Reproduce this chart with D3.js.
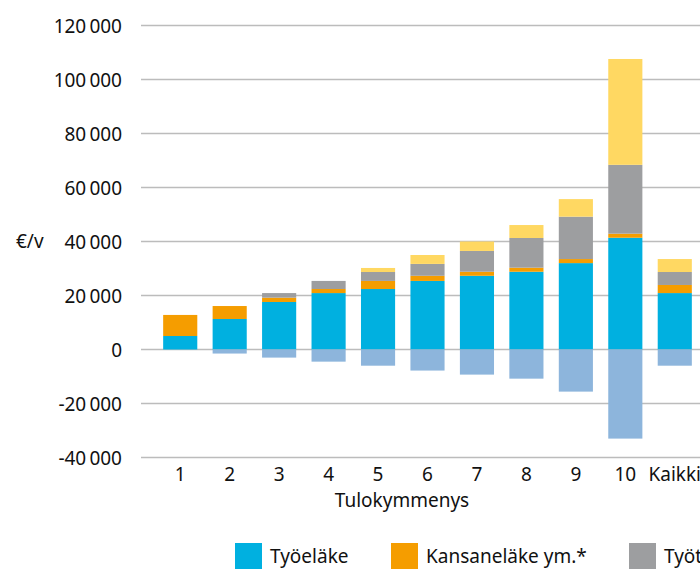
<!DOCTYPE html>
<html>
<head>
<meta charset="utf-8">
<script src="https://cdn.jsdelivr.net/npm/d3@7"></script>
<style>
  html, body { margin: 0; padding: 0; background: #fff; }
  svg { display: block; font-family: 'Noto Sans', sans-serif; }
</style>
</head>
<body>
<svg id="chart" width="700" height="569"></svg>
<script>
// Chart data
const categories = ['1', '2', '3', '4', '5', '6', '7', '8', '9', '10', 'Kaikki'];
const tyoelake = [5000, 11300, 17600, 20900, 22400, 25400, 27300, 28800, 32000, 41400, 20900];
const kansanelake = [7800, 4800, 1600, 1500, 3000, 1900, 1500, 1500, 1500, 1500, 3000];
const tyotulot = [0, 0, 1700, 3000, 3300, 4400, 7700, 11000, 15700, 25500, 4800];
const paaomatulot = [0, 0, 0, 0, 1500, 3300, 3500, 4800, 6500, 39200, 4800];
const verot = [0, -1500, -3000, -4500, -6000, -7800, -9300, -10800, -15600, -33000, -6000];
const yTicks = [-40000, -20000, 0, 20000, 40000, 60000, 80000, 100000, 120000];

const seriesNames = ['Työeläke', 'Kansaneläke ym.*', 'Työtulot', 'Pääomatulot', 'Verot'];
const seriesValues = [tyoelake, kansanelake, tyotulot, paaomatulot, verot];
const colors = ['#00b0e0', '#f59d00', '#9d9ea0', '#ffd862', '#8db5dc'];
const fontSize = 19;
const textColor = '#111';

const svg = d3.select('#chart');

// Build rows for d3.stack
const rows = categories.map((c, i) => {
  const row = { cat: c };
  seriesNames.forEach((s, j) => { row[s] = seriesValues[j][i]; });
  return row;
});
const stacked = d3.stack()
  .keys(seriesNames)
  .offset(d3.stackOffsetDiverging)(rows);

// Scales
const y = d3.scaleLinear()
  .domain([-40000, 120000])
  .range([457.5, 25.5]);
const x = d3.scaleBand()
  .domain(categories)
  .range([155.5, 699.5])
  .paddingInner(0.31)
  .paddingOuter(0.155);

// Grid lines
svg.append('g')
  .selectAll('line')
  .data(yTicks)
  .enter()
  .append('line')
    .attr('x1', 141)
    .attr('x2', 700)
    .attr('y1', d => y(d))
    .attr('y2', d => y(d))
    .attr('stroke', '#bcbcbc')
    .attr('stroke-width', 1.5);

// Y axis labels, thin space as thousands separator and plain hyphen for minus
const fmt = d => (d < 0 ? '-' : '') + d3.format(',')(Math.abs(d)).replace(/,/g, '\u2009');
svg.append('g')
  .selectAll('text')
  .data(yTicks)
  .enter()
  .append('text')
    .attr('x', 122)
    .attr('y', d => y(d) + 7)
    .attr('text-anchor', 'end')
    .attr('font-size', fontSize)
    .attr('fill', textColor)
    .text(fmt);

svg.append('text')
  .attr('x', 16)
  .attr('y', 248)
  .attr('font-size', fontSize)
  .attr('fill', textColor)
  .text('€/v');

// Bars
svg.append('g')
  .selectAll('g')
  .data(stacked)
  .enter()
  .append('g')
    .attr('fill', (d, i) => colors[i])
  .selectAll('rect')
  .data(d => d)
  .enter()
  .append('rect')
    .attr('x', d => x(d.data.cat))
    .attr('width', x.bandwidth())
    .attr('y', d => y(Math.max(d[0], d[1])))
    .attr('height', d => Math.abs(y(d[0]) - y(d[1])));

// X axis labels
svg.append('g')
  .selectAll('text')
  .data(categories)
  .enter()
  .append('text')
    .attr('x', d => x(d) + x.bandwidth() / 2)
    .attr('y', 481)
    .attr('text-anchor', 'middle')
    .attr('font-size', fontSize)
    .attr('fill', textColor)
    .text(d => d);

svg.append('text')
  .attr('x', 402)
  .attr('y', 507)
  .attr('text-anchor', 'middle')
  .attr('font-size', fontSize)
  .attr('fill', textColor)
  .text('Tulokymmenys');

// Legend (runs past the right edge, as in the original)
const legendX = [235, 391, 629, 800, 960];
const legend = svg.append('g')
  .selectAll('g')
  .data(seriesNames)
  .enter()
  .append('g')
    .attr('transform', (d, i) => `translate(${legendX[i]}, 543)`);
legend.append('rect')
  .attr('width', 27)
  .attr('height', 27)
  .attr('fill', (d, i) => colors[i]);
legend.append('text')
  .attr('x', 35)
  .attr('y', 20)
  .attr('font-size', fontSize)
  .attr('fill', textColor)
  .text(d => d);
</script>
</body>
</html>
